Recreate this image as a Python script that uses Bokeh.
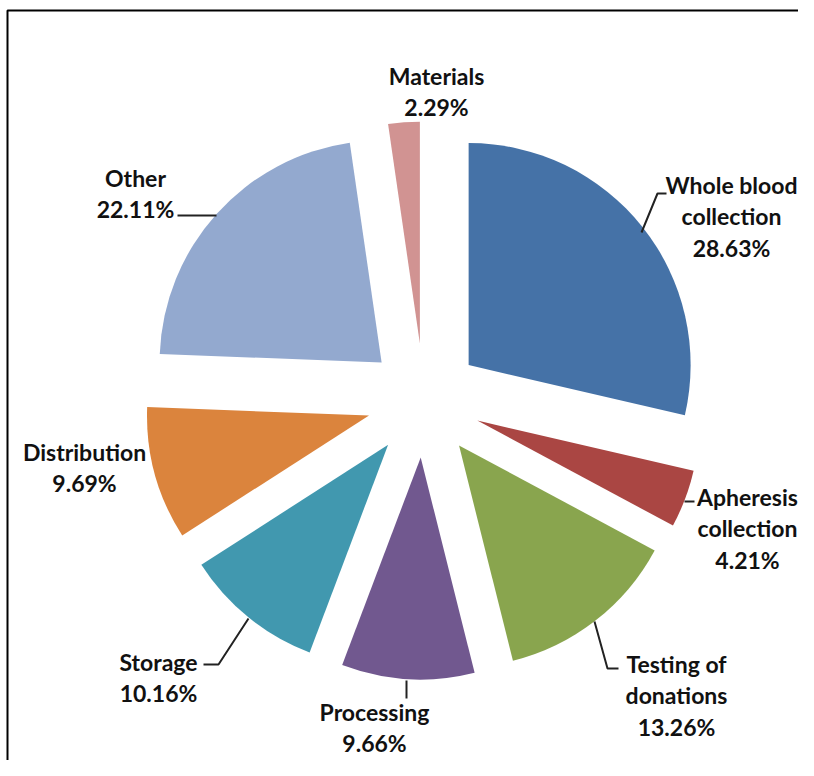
import math
from bokeh.plotting import figure
from bokeh.models import ColumnDataSource, Range1d
from bokeh.core.properties import value
from bokeh.embed import file_html
from bokeh.resources import INLINE

# ---- data ----
categories = ["Whole blood\ncollection", "Apheresis\ncollection", "Testing of\ndonations",
              "Processing", "Storage", "Distribution", "Other", "Materials"]
shares = [28.63, 4.21, 13.26, 9.66, 10.16, 9.69, 22.11, 2.29]
colors = ["#4572A7", "#AA4643", "#89A54E", "#71588F", "#4198AF", "#DB843D", "#93A9CF", "#D19392"]

# ---- layout (pixel coordinates, origin top-left of the figure) ----
W, H = 798, 760
cx, cy_s = 423.5, 400      # pie centre
R = 222                    # radius
EXPLODE = 57               # explode distance
LINE_H = 31.5
# label centres (x, first-line y)
label_pos = [(731, 184), (747, 496), (676, 663), (374, 711), (158, 661), (84, 451), (135, 177), (436, 75)]
leaders = [
    [(641, 232), (657, 193), (666, 193)],
    [(684, 501), (694, 501)],
    [(594, 621), (607, 668), (618, 668)],
    [(406, 680), (406, 698)],
    [(248, 618), (218, 664), (203, 664)],
    None,
    [(177, 215), (216, 215)],
    None,
]

def Y(sy):
    return H - sy

total = sum(shares)
xs, ys, starts, ends = [], [], [], []
cum = 0.0
for s in shares:
    a0 = 90 - cum / total * 360
    a1 = 90 - (cum + s) / total * 360
    mid = math.radians((a0 + a1) / 2)
    xs.append(cx + EXPLODE * math.cos(mid))
    ys.append(Y(cy_s) + EXPLODE * math.sin(mid))
    starts.append(math.radians(a1))
    ends.append(math.radians(a0))
    cum += s

src = ColumnDataSource(dict(x=xs, y=ys, start=starts, end=ends, color=colors))

p = figure(width=W, height=H, output_backend="svg", toolbar_location=None,
           x_range=Range1d(0, W), y_range=Range1d(0, H),
           min_border=0, outline_line_color=None)
p.axis.visible = False
p.xgrid.visible = False
p.ygrid.visible = False
p.background_fill_color = "white"
p.border_fill_color = "white"

# outer frame
p.quad(left=[7], right=[W + 40], top=[Y(10)], bottom=[-40], fill_color=None,
       line_color="black", line_width=2)

p.wedge(x="x", y="y", radius=R, start_angle="start", end_angle="end",
        fill_color="color", line_color=None, source=src)

# leader lines
for seg in leaders:
    if seg:
        p.line([q[0] for q in seg], [Y(q[1]) for q in seg], line_color="#222222", line_width=2)

# labels
tx, ty, tt = [], [], []
for name, s, (lx, ly) in zip(categories, shares, label_pos):
    lines = name.split("\n") + [f"{s:.2f}%"]
    for i, ln in enumerate(lines):
        tx.append(lx)
        ty.append(Y(ly + i * LINE_H))
        tt.append(ln)
p.text(x=tx, y=ty, text=tt, text_align="center", text_baseline="middle",
       text_font=value("Lato"), text_font_style="bold", text_font_size="23px",
       text_color="#111111")

open("out.html", "w").write(file_html(p, INLINE))
